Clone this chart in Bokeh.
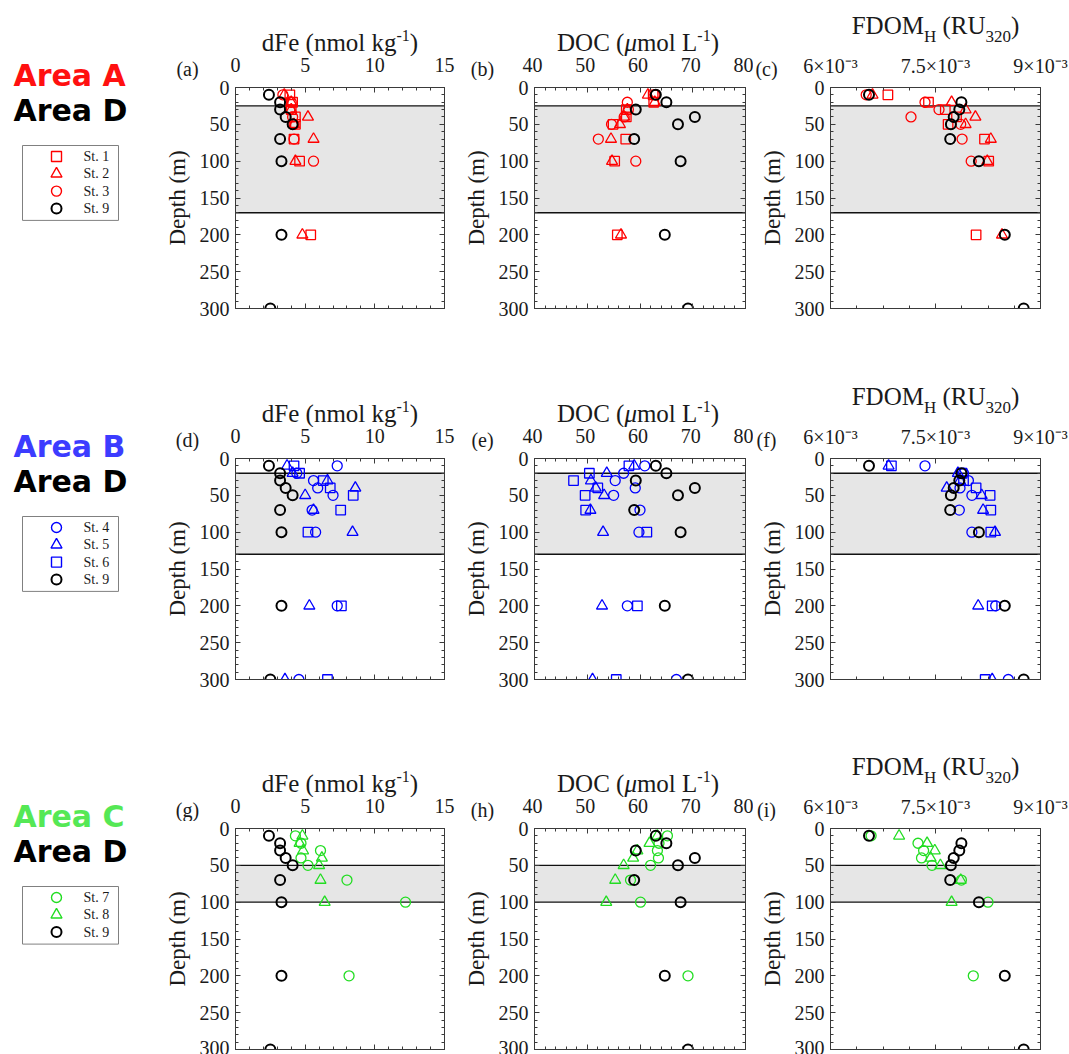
from bokeh.plotting import figure
from bokeh.models import Range1d, FixedTicker, LinearAxis, BoxAnnotation, Span
from bokeh.layouts import column, row
from bokeh.embed import file_html
from bokeh.resources import INLINE
from bokeh.core.properties import value

SERIF = "Liberation Serif"
SANS_B = "DejaVu Sans"
TXT = "#1a1a1a"

# ---------------- data ----------------
# St. 9 (Area D) - shown in every row
st9_depth = [10, 20, 30, 40, 50, 70, 100, 200, 300]
st9_dfe = [2.4, 3.2, 3.2, 3.6, 4.1, 3.2, 3.3, 3.3, 2.5]
st9_doc = [63.0, 65.0, 59.2, 70.4, 67.2, 58.9, 67.7, 64.7, 69.1]
st9_fdom = [6.55e-3, 7.87e-3, 7.84e-3, 7.76e-3, 7.72e-3, 7.71e-3, 8.12e-3, 8.49e-3, 8.76e-3]

# Area A
st1_depth = [10, 20, 30, 40, 50, 70, 100, 200]
st1_dfe = [3.9, 4.1, 4.0, 4.3, 4.3, 4.2, 4.6, 5.4]
st1_doc = [62.5, 62.6, 57.4, 57.4, 54.9, 57.3, 55.2, 55.7]
st1_fdom = [6.82e-3, 7.40e-3, 7.64e-3, 7.80e-3, 7.68e-3, 8.20e-3, 8.26e-3, 8.08e-3]

st2_depth = [10, 20, 30, 40, 50, 70, 100, 200]
st2_dfe = [3.5, 4.0, 4.0, 5.2, 4.2, 5.6, 4.3, 4.8]
st2_doc = [61.5, 62.8, 57.6, 57.0, 56.2, 54.5, 54.7, 56.4]
st2_fdom = [6.60e-3, 7.73e-3, 7.93e-3, 8.07e-3, 7.93e-3, 8.29e-3, 8.24e-3, 8.45e-3]

st3_depth = [10, 20, 30, 40, 50, 70, 100]
st3_dfe = [3.4, 4.0, 3.9, 4.1, 4.2, 4.2, 5.6]
st3_doc = [62.8, 57.6, 57.8, 57.0, 54.6, 52.1, 59.2]
st3_fdom = [6.51e-3, 7.35e-3, 7.55e-3, 7.15e-3, 7.86e-3, 7.88e-3, 8.01e-3]

# Area B
st4_depth = [10, 20, 30, 40, 50, 70, 100, 200, 300]
st4_dfe = [7.3, 4.4, 5.6, 5.9, 7.0, 5.5, 5.75, 7.3, 4.55]
st4_doc = [60.9, 56.9, 55.3, 59.1, 55.0, 60.0, 59.8, 57.6, 66.9]
st4_fdom = [7.35e-3, 7.90e-3, 7.97e-3, 7.85e-3, 8.02e-3, 7.84e-3, 8.02e-3, 8.36e-3, 8.54e-3]

st5_depth = [10, 20, 30, 40, 50, 70, 100, 200, 300]
st5_dfe = [3.7, 4.1, 6.6, 8.6, 5.0, 5.6, 8.4, 5.3, 3.55]
st5_doc = [58.9, 53.7, 50.7, 51.6, 53.2, 50.6, 53.0, 52.8, 51.0]
st5_fdom = [6.83e-3, 7.82e-3, 7.85e-3, 7.66e-3, 8.16e-3, 8.18e-3, 8.35e-3, 8.11e-3, 8.31e-3]

st6_depth = [10, 20, 30, 40, 50, 70, 100, 200, 300]
st6_dfe = [4.2, 4.6, 6.3, 6.8, 8.45, 7.55, 5.2, 7.6, 6.6]
st6_doc = [57.9, 50.4, 47.4, 52.0, 49.6, 49.7, 61.3, 59.5, 55.5]
st6_fdom = [6.87e-3, 7.88e-3, 7.90e-3, 8.08e-3, 8.28e-3, 8.29e-3, 8.29e-3, 8.31e-3, 8.21e-3]

# Area C
st7_depth = [10, 20, 30, 40, 50, 70, 100, 200]
st7_dfe = [4.3, 4.7, 6.1, 4.7, 5.2, 8.0, 12.2, 8.15]
st7_doc = [65.2, 63.6, 63.3, 63.5, 62.0, 58.2, 60.1, 69.1]
st7_fdom = [6.58e-3, 7.25e-3, 7.33e-3, 7.30e-3, 7.45e-3, 7.87e-3, 8.25e-3, 8.04e-3]

st8_depth = [10, 20, 30, 40, 50, 70, 100]
st8_dfe = [4.8, 4.6, 4.85, 6.2, 6.0, 6.1, 6.4]
st8_doc = [63.3, 61.8, 59.5, 58.7, 56.9, 55.3, 53.6]
st8_fdom = [6.98e-3, 7.38e-3, 7.49e-3, 7.43e-3, 7.57e-3, 7.86e-3, 7.73e-3]

# shaded layer (top, bottom) in m for each area row
band_A = [25, 170]
band_B = [20, 130]
band_C = [50, 100]

depth_ticks = [0, 50, 100, 150, 200, 250, 300]
dfe_ticks = [0, 5, 10, 15]
doc_ticks = [40, 50, 60, 70, 80]
fdom_ticks = [0.006, 0.0075, 0.009]
fdom_tick_labels = ["6×10⁻³", "7.5×10⁻³", "9×10⁻³"]

STATIONS = {
    "St. 1": (st1_depth, st1_dfe, st1_doc, st1_fdom),
    "St. 2": (st2_depth, st2_dfe, st2_doc, st2_fdom),
    "St. 3": (st3_depth, st3_dfe, st3_doc, st3_fdom),
    "St. 4": (st4_depth, st4_dfe, st4_doc, st4_fdom),
    "St. 5": (st5_depth, st5_dfe, st5_doc, st5_fdom),
    "St. 6": (st6_depth, st6_dfe, st6_doc, st6_fdom),
    "St. 7": (st7_depth, st7_dfe, st7_doc, st7_fdom),
    "St. 8": (st8_depth, st8_dfe, st8_doc, st8_fdom),
    "St. 9": (st9_depth, st9_dfe, st9_doc, st9_fdom),
}

RED, BLUE, GREEN, BLACK = "#ff0000", "#0000ff", "#22dd22", "#000000"

TOP_H = 87  # px from row top to plot frame top

ROWS = [
    dict(area="Area A", area_color="#ff1010", band=band_A, tags=["(a)", "(b)", "(c)"],
         st=[("St. 1", "square", RED), ("St. 2", "triangle", RED), ("St. 3", "circle", RED), ("St. 9", "circle", BLACK)],
         fh=221, bottom=63),
    dict(area="Area B", area_color="#3c3cff", band=band_B, tags=["(d)", "(e)", "(f)"],
         st=[("St. 4", "circle", BLUE), ("St. 5", "triangle", BLUE), ("St. 6", "square", BLUE), ("St. 9", "circle", BLACK)],
         fh=221, bottom=62),
    dict(area="Area C", area_color="#55e855", band=band_C, tags=["(g)", "(h)", "(i)"],
         st=[("St. 7", "circle", GREEN), ("St. 8", "triangle", GREEN), ("St. 9", "circle", BLACK)],
         fh=221, bottom=5),
]

# per column: title strip height, tick-label strip height, gap above frame (head+strip+gap = TOP_H)
# title parts: (text, font px, vertical centre in header px, style)
COLS = [
    dict(idx=1, L=75, F=209, R=16, B=22, head=56, strip=24, gap=7, standoff=0,
         xr=(0, 15), ticks=dfe_ticks, minor=list(range(1, 15)), tag_x=27, tag_y=12,
         title=[("dFe (nmol kg", 25, 42, "normal"), ("-1", 16, 35, "normal"), (")", 25, 42, "normal")]),
    dict(idx=2, L=72, F=211, R=10, B=24, head=56, strip=24, gap=7, standoff=0,
         xr=(40, 80), ticks=doc_ticks, minor=[42, 44, 46, 48, 52, 54, 56, 58, 62, 64, 66, 68, 72, 74, 76, 78],
         tag_x=22, tag_y=12,
         title=[("DOC (", 25, 42, "normal"), ("μ", 25, 42, "italic"), ("mol L", 25, 42, "normal"), ("-1", 16, 35, "normal"), (")", 25, 42, "normal")]),
    dict(idx=3, L=75, F=210, R=31, B=40, head=52, strip=28, gap=7, standoff=1,
         xr=(0.006, 0.009), ticks=fdom_ticks, minor=[0.006375, 0.00675, 0.007125, 0.007875, 0.00825, 0.008625],
         tag_x=11, tag_y=16,
         title=[("FDOM", 25, 25, "normal"), ("H", 17, 36, "normal"), (" (RU", 25, 25, "normal"), ("320", 17, 36, "normal"), (")", 25, 25, "normal")]),
]

WID = {' ': .25, '(': .333, ')': .333, '-': .333, 'C': .667, 'D': .722, 'F': .556, 'H': .722, 'L': .611,
       'M': .889, 'O': .722, 'R': .667, 'U': .722, 'd': .5, 'e': .444, 'g': .5, 'k': .5, 'l': .278,
       'm': .778, 'n': .5, 'o': .5, 'μ': .5}


def tw(s, size):
    return sum(WID.get(c, 0.5) for c in s) * size


def no_align(p):
    try:
        p.frame_align = False
    except Exception:
        pass
    return p


def pix_fig(w, h):
    f = figure(frame_width=w, frame_height=h, min_border=0, x_range=Range1d(0, w), y_range=Range1d(h, 0),
               x_axis_type=None, y_axis_type=None, toolbar_location=None, tools="", output_backend="svg",
               outline_line_color=None, background_fill_color="white", border_fill_color="white")
    return no_align(f)


def style_axis(ax, ticker, labels=True):
    ax.ticker = ticker
    ax.axis_line_color = "#3a3a3a"
    ax.major_tick_line_color = "#3a3a3a"
    ax.minor_tick_line_color = "#3a3a3a"
    ax.major_tick_in = 5
    ax.major_tick_out = 0
    ax.minor_tick_in = 3
    ax.minor_tick_out = 0
    if labels:
        ax.major_label_text_font = SERIF
        ax.major_label_text_font_size = "20px"
        ax.major_label_text_color = TXT
    else:
        # tick marks only: labels are not painted
        ax.major_label_text_color = None
        ax.major_label_text_font_size = "1px"
        ax.major_label_standoff = 0


def header(cs):
    W = cs["L"] + cs["F"] + cs["R"]
    h = pix_fig(W, cs["head"])
    total = sum(tw(t, s) for t, s, yc, st in cs["title"])
    cur = cs["L"] + cs["F"] / 2 - total / 2
    for t, s, yc, st in cs["title"]:
        lead = len(t) - len(t.lstrip(" "))
        cur += tw(" " * lead, s)
        t2 = t.strip(" ")
        h.text(x=[cur], y=[yc], text=[t2], text_font=value(SERIF), text_font_size=f"{s}px",
               text_font_style=st, text_align="left", text_baseline="middle", text_color=TXT)
        cur += tw(t2, s)
    return h


def tick_strip(cs, xrange_obj, tag):
    sh = cs["strip"]
    tagfig = pix_fig(cs["L"] - cs["B"], sh)
    tagfig.text(x=[cs["tag_x"]], y=[cs["tag_y"]], text=[tag], text_font=value(SERIF), text_font_size="20px",
                text_align="center", text_baseline="middle", text_color=TXT)
    a = figure(frame_width=cs["F"], frame_height=1, min_border_left=cs["B"], min_border_right=cs["R"],
               min_border_top=0, min_border_bottom=sh - 1, x_range=xrange_obj, y_range=Range1d(0, 1),
               y_axis_type=None, x_axis_location="below", toolbar_location=None, tools="",
               output_backend="svg", outline_line_color=None, background_fill_color="white",
               border_fill_color="white")
    no_align(a)
    a.xgrid.visible = False
    ax = a.xaxis[0]
    ax.ticker = FixedTicker(ticks=cs["ticks"])
    ax.axis_line_color = None
    ax.major_tick_line_color = None
    ax.minor_tick_line_color = None
    ax.major_tick_in = 0
    ax.major_tick_out = 0
    ax.minor_tick_in = 0
    ax.minor_tick_out = 0
    ax.major_label_standoff = cs["standoff"]
    ax.major_label_text_font = SERIF
    ax.major_label_text_font_size = "20px"
    ax.major_label_text_color = TXT
    if cs["idx"] == 3:
        ax.major_label_overrides = dict(zip(fdom_ticks, fdom_tick_labels))
    return row(tagfig, a, spacing=0)


def panel(rs, cs, var_i, xrange_obj):
    p = figure(frame_width=cs["F"], frame_height=rs["fh"],
               min_border_left=cs["L"], min_border_right=cs["R"],
               min_border_top=cs["gap"], min_border_bottom=rs["bottom"],
               x_range=xrange_obj, y_range=Range1d(300, 0),
               x_axis_location="above", toolbar_location=None, tools="",
               output_backend="svg", background_fill_color="white", border_fill_color="white")
    no_align(p)
    p.xgrid.visible = False
    p.ygrid.visible = False
    p.outline_line_color = "#3a3a3a"
    p.outline_line_width = 1

    xt = FixedTicker(ticks=cs["ticks"], minor_ticks=cs["minor"])
    yt = FixedTicker(ticks=depth_ticks, minor_ticks=[d for d in range(10, 300, 10) if d % 50])
    style_axis(p.xaxis[0], xt, labels=False)
    style_axis(p.yaxis[0], yt)
    p.yaxis[0].major_label_standoff = 6
    p.yaxis[0].axis_label = "Depth (m)"
    p.yaxis[0].axis_label_text_font = SERIF
    p.yaxis[0].axis_label_text_font_size = "23px"
    p.yaxis[0].axis_label_text_font_style = "normal"
    p.yaxis[0].axis_label_text_color = TXT
    p.yaxis[0].axis_label_standoff = 7

    rax = LinearAxis()
    style_axis(rax, yt, labels=False)
    p.add_layout(rax, "right")
    bax = LinearAxis()
    style_axis(bax, xt, labels=False)
    p.add_layout(bax, "below")

    band = rs["band"]
    p.add_layout(BoxAnnotation(top=band[0], bottom=band[1], fill_color="#e6e6e6", fill_alpha=1.0,
                               line_color=None, level="underlay"))
    for d in band:
        p.add_layout(Span(location=d, dimension="width", line_color="#111111", line_width=1.3, level="underlay"))

    for name, marker, color in rs["st"]:
        data = STATIONS[name]
        size = {"circle": 10, "triangle": 11, "square": 9.5}[marker]
        lw = 2.0 if color == BLACK else 1.3
        p.scatter(x=data[var_i], y=data[0], marker=marker, size=size, fill_color=None,
                  line_color=color, line_width=lw)
    return p


def side(rs):
    h = TOP_H + rs["fh"] + rs["bottom"]
    s = pix_fig(160, h)
    s.text(x=[13], y=[75], text=[rs["area"]], text_font=value(SANS_B), text_font_style="bold",
           text_font_size="30px", text_color=rs["area_color"], text_baseline="middle")
    s.text(x=[13], y=[110], text=["Area D"], text_font=value(SANS_B), text_font_style="bold",
           text_font_size="30px", text_color="#000000", text_baseline="middle")
    n = len(rs["st"])
    ys = [156 + 17.3 * i for i in range(n)]
    s.quad(left=[22], right=[118], top=[145], bottom=[ys[-1] + 12], fill_color="white",
           line_color="#808080", line_width=1)
    for (name, marker, color), y in zip(rs["st"], ys):
        size = {"circle": 10, "triangle": 11, "square": 10}[marker]
        s.scatter(x=[56], y=[y], marker=marker, size=size, fill_color=None, line_color=color,
                  line_width=2.0 if color == BLACK else 1.4)
        s.text(x=[83], y=[y], text=[name], text_font=value(SERIF), text_font_size="14px",
               text_color=TXT, text_baseline="middle")
    return s


rows = []
for rs in ROWS:
    items = [side(rs)]
    for cs, tag in zip(COLS, rs["tags"]):
        xr = Range1d(*cs["xr"])
        items.append(column(header(cs), tick_strip(cs, xr, tag), panel(rs, cs, cs["idx"], xr), spacing=0))
    rows.append(row(*items, spacing=0))

layout = column(*rows, spacing=0)
open("out.html", "w").write(file_html(layout, INLINE))
